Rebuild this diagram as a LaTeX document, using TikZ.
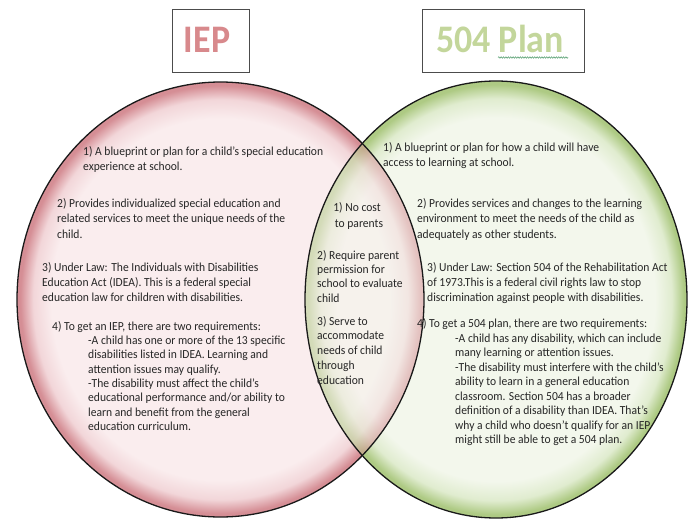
\documentclass[tikz,border=0pt]{standalone}
\usepackage{fontspec}
\setmainfont{Carlito}
\newfontfamily\bodyfont{Carlito}[FakeStretch=0.94]
\newfontfamily\titlefont{Carlito}[FakeStretch=0.92]
\usetikzlibrary{decorations.pathmorphing}
\definecolor{pinkin}{HTML}{FAEDEE}
\definecolor{pinkmid}{HTML}{F2D6D9}
\definecolor{pinkedge}{HTML}{D58E95}
\definecolor{greenin}{HTML}{F3F7EC}
\definecolor{greenmid}{HTML}{E0ECCF}
\definecolor{greenedge}{HTML}{AECA84}
\definecolor{textcol}{HTML}{262626}
\definecolor{ieptitle}{HTML}{D8898C}
\definecolor{plantitle}{HTML}{C3D69B}
\definecolor{squig}{HTML}{4E9A6A}
\pgfdeclareradialshading{pinkglow}{\pgfpoint{0bp}{0bp}}{color(0bp)=(pinkin); color(20.8bp)=(pinkin); color(23bp)=(pinkmid); color(24.6bp)=(pinkedge); color(25bp)=(pinkedge); color(50bp)=(pinkedge)}
\pgfdeclareradialshading{greenglow}{\pgfpoint{0bp}{0bp}}{color(0bp)=(greenin); color(20.8bp)=(greenin); color(23bp)=(greenmid); color(24.6bp)=(greenedge); color(25bp)=(greenedge); color(50bp)=(greenedge)}
\tikzset{
  txt/.style={anchor=base west, inner sep=0pt, text=textcol, font=\bodyfont\fontsize{12.3}{14}\selectfont},
  ctxt/.style={txt, anchor=base},
  titlebox/.style={draw=black!70, line width=0.8pt, fill=white, minimum height=63pt, inner sep=0pt},
  outline/.style={draw=black!90, line width=1.3pt}
}
\newcommand\txtblock[5]{%
  \foreach \ln [count=\i] in {#5} {
    \node[txt] (#1-\i) at (#2, {#3+(\i-1)*#4}) {\ln};
  }%
}
\begin{document}
\begin{tikzpicture}[x=1pt, y=-1pt]
\useasboundingbox (0,0) rectangle (689,519);
\coordinate (pc) at (220.5,299.5);
\coordinate (gc) at (496,299.5);
% circles
\shade[shading=greenglow] (gc) ellipse [x radius=191pt, y radius=218.5pt];
\shade[shading=pinkglow] (pc) ellipse [x radius=203.5pt, y radius=217.5pt];
\begin{scope}
  \clip (pc) ellipse [x radius=203.5pt, y radius=217.5pt];
  \shade[shading=greenglow, fill opacity=0.5] (gc) ellipse [x radius=191pt, y radius=218.5pt];
\end{scope}
\draw[outline] (pc) ellipse [x radius=203.5pt, y radius=217.5pt];
\draw[outline] (gc) ellipse [x radius=191pt, y radius=218.5pt];
% titles
\node[titlebox, minimum width=77pt] (iepbox) at (211,41) {};
\node[anchor=base, inner sep=0pt, text=ieptitle, font=\titlefont\bfseries\fontsize{39}{40}\selectfont] (iep) at (207,53) {IEP};
\node[titlebox, minimum width=162pt] (planbox) at (503,41) {};
\node[anchor=base, inner sep=0pt, text=plantitle, font=\titlefont\bfseries\fontsize{39}{40}\selectfont] (plan) at (500,53) {504 Plan};
\coordinate (sq1) at (498,57.5);
\coordinate (sq2) at (568,57.5);
\draw[squig, line width=0.5pt, decorate, decoration={snake, amplitude=0.8pt, segment length=2.4pt}] (sq1) -- (sq2);
% left texts
\txtblock{La}{83}{156}{15}{{1) A blueprint or plan for a child’s special education}, experience at school.}
\txtblock{Lb}{57}{207}{15.5}{2) Provides individualized special education and, related services to meet the unique needs of the, child.}
\txtblock{Lc}{42}{271}{15}{3) Under Law: The Individuals with Disabilities, Education Act (IDEA). This is a federal special, education law for children with disabilities.}
\txtblock{Ld}{52}{330}{14.4}{{4) To get an IEP, there are two requirements:}}
\txtblock{Le}{88}{344.4}{14.35}{-A child has one or more of the 13 specific, disabilities listed in IDEA. Learning and, attention issues may qualify., -The disability must affect the child’s, educational performance and/or ability to, learn and benefit from the general, education curriculum.}
% middle texts
\node[ctxt] (Ma-1) at (357,211) {1) No cost};
\node[ctxt] (Ma-2) at (359,227) {to parents};
\txtblock{Mb}{317}{259}{14.4}{2) Require parent, permission for, school to evaluate, child}
\txtblock{Mc}{317}{325}{14.8}{3) Serve to, accommodate, needs of child, through, education}
% right texts
\txtblock{Ra}{383}{151}{16}{1) A blueprint or plan for how a child will have, access to learning at school.}
\txtblock{Rb}{417}{207}{15.5}{2) Provides services and changes to the learning, environment to meet the needs of the child as, adequately as other students.}
\txtblock{Rc}{427}{271}{15}{3) Under Law: Section 504 of the Rehabilitation Act, of 1973.This is a federal civil rights law to stop, discrimination against people with disabilities.}
\txtblock{Rd}{417}{327}{14.5}{{4) To get a 504 plan, there are two requirements:}}
\txtblock{Re}{455}{342}{14.5}{{-A child has any disability, which can include}, many learning or attention issues., -The disability must interfere with the child’s, ability to learn in a general education, classroom. Section 504 has a broader, definition of a disability than IDEA. That’s, why a child who doesn’t qualify for an IEP, might still be able to get a 504 plan.}
\end{tikzpicture}
\end{document}
